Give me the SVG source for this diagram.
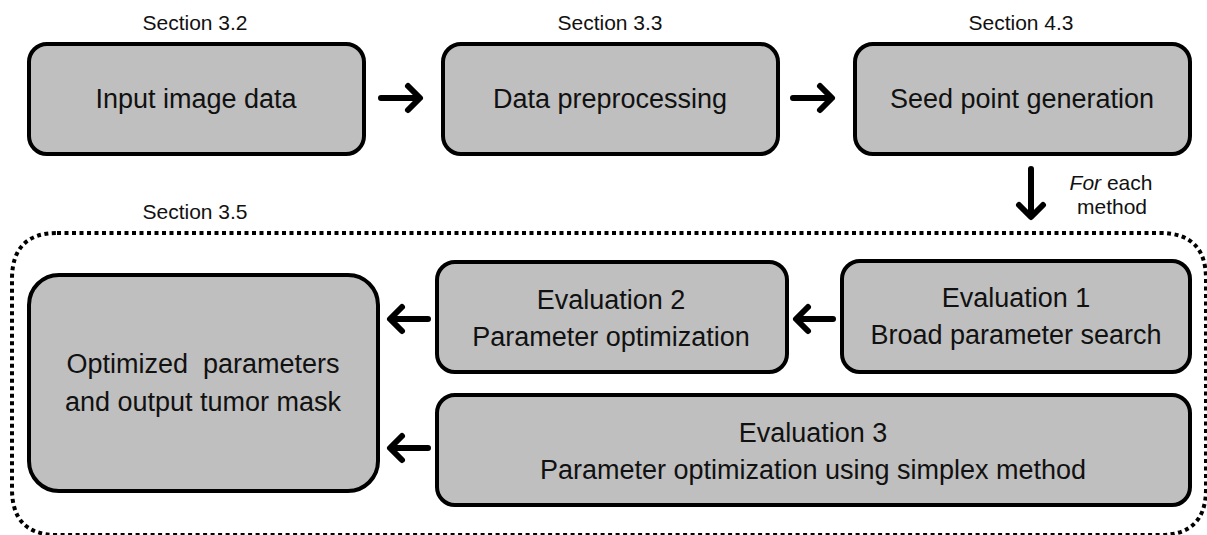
<svg xmlns="http://www.w3.org/2000/svg" width="1207" height="535" viewBox="0 0 1207 535">
<style>
.box{fill:#bfbfbf;stroke:#000;stroke-width:4}
.t{font-family:"Liberation Sans",Arial,sans-serif;font-size:27px;fill:#111;text-anchor:middle}
.s{font-family:"Liberation Sans",Arial,sans-serif;font-size:21px;fill:#111;text-anchor:middle}
.arr{fill:none;stroke:#000;stroke-width:6;stroke-linecap:round;stroke-linejoin:round}
</style>
<rect width="1207" height="535" fill="#fff"/>
<path d="M57,233 H1160 Q1206,233 1206,279 V489 Q1206,535 1160,535 H57 Q12,535 12,489 V279 Q12,233 57,233 Z" fill="none" stroke="#000" stroke-width="4" stroke-dasharray="4 3.5"/>
<text class="s" x="195" y="30">Section 3.2</text>
<text class="s" x="610" y="30">Section 3.3</text>
<text class="s" x="1021" y="30">Section 4.3</text>
<text class="s" x="195" y="219">Section 3.5</text>
<text class="s" x="1111" y="190"><tspan font-style="italic">For</tspan> each</text>
<text class="s" x="1112" y="214">method</text>
<g id="input">
<rect class="box" x="29" y="44" width="335" height="110" rx="18"/>
<text class="t" x="196" y="108">Input image data</text>
</g>
<g id="preprocess">
<rect class="box" x="443" y="44" width="335" height="110" rx="18"/>
<text class="t" x="610" y="108">Data preprocessing</text>
</g>
<g id="seed">
<rect class="box" x="855" y="44" width="335" height="110" rx="18"/>
<text class="t" x="1022" y="108">Seed point generation</text>
</g>
<g id="optimized">
<rect class="box" x="29" y="275" width="349" height="216" rx="30"/>
<text class="t" x="203" y="373" xml:space="preserve">Optimized  parameters</text>
<text class="t" x="203" y="411">and output tumor mask</text>
</g>
<g id="eval2">
<rect class="box" x="437" y="262" width="350" height="110" rx="18"/>
<text class="t" x="611" y="309">Evaluation 2</text>
<text class="t" x="611" y="346">Parameter optimization</text>
</g>
<g id="eval1">
<rect class="box" x="842" y="261" width="348" height="111" rx="18"/>
<text class="t" x="1016" y="307">Evaluation 1</text>
<text class="t" x="1016" y="344">Broad parameter search</text>
</g>
<g id="eval3">
<rect class="box" x="437" y="395" width="753" height="110" rx="18"/>
<text class="t" x="813" y="442">Evaluation 3</text>
<text class="t" x="813" y="479">Parameter optimization using simplex method</text>
</g>
<g id="connectors">
<path class="arr" d="M381,98 H419 M408,86 L420,98 L408,110"/>
<path class="arr" d="M793,98 H831 M820,86 L832,98 L820,110"/>
<path class="arr" d="M1031,169 V216 M1019,205 L1031,217 L1043,205"/>
<path class="arr" d="M833,319 H797 M808,307 L796,319 L808,331"/>
<path class="arr" d="M428,319 H391 M402,307 L390,319 L402,331"/>
<path class="arr" d="M428,448 H391 M402,436 L390,448 L402,460"/>
</g>
</svg>
